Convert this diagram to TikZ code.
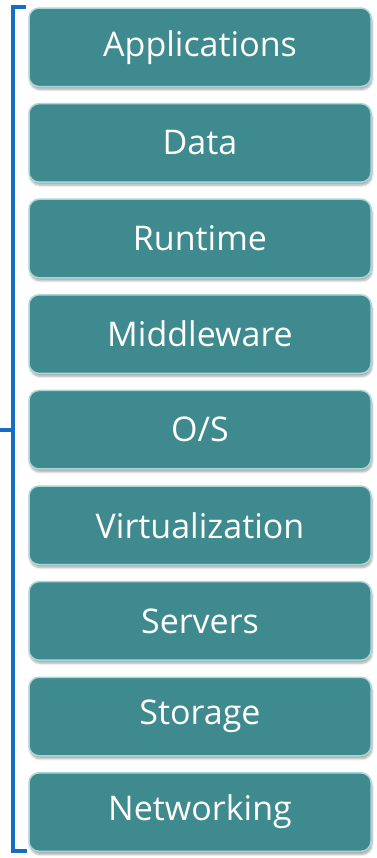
\documentclass[tikz,border=0pt]{standalone}
\usepackage{fontspec}
\setmainfont{Open Sans}
\usetikzlibrary{shadows.blur}
\definecolor{boxfill}{RGB}{62,138,143}
\definecolor{boxedge}{RGB}{168,214,218}
\definecolor{bracket}{RGB}{22,110,196}
\tikzset{
  layer/.style={draw=boxedge, line width=1.5pt, fill=boxfill, rounded corners=10pt,
    minimum width=342pt, minimum height=78.5pt, inner sep=0pt, text=white,
    font=\fontsize{34}{40}\selectfont,
    blur shadow={shadow xshift=1pt, shadow yshift=-3pt, shadow blur steps=6, shadow opacity=35}},
  brack/.style={draw=bracket, line width=3.2pt}
}
\begin{document}
\begin{tikzpicture}[x=1pt,y=-1pt]
\useasboundingbox (0,0) rectangle (376,858);
\foreach \t [count=\i from 0] in {Applications,Data,Runtime,Middleware,O/S,Virtualization,Servers,Storage,Networking}{
  \node[layer] (b\i) at (200, 47.3+95.6*\i) {\t};
}
\coordinate (tt) at (26,7);
\coordinate (tl) at (13,7);
\coordinate (bl) at (13,851);
\coordinate (bt) at (27,851);
\coordinate (ml) at (13,430);
\coordinate (mo) at (0,430);
\draw[brack] (tt) -- (tl) -- (bl) -- (bt);
\draw[brack] (ml) -- (mo);
\end{tikzpicture}
\end{document}
